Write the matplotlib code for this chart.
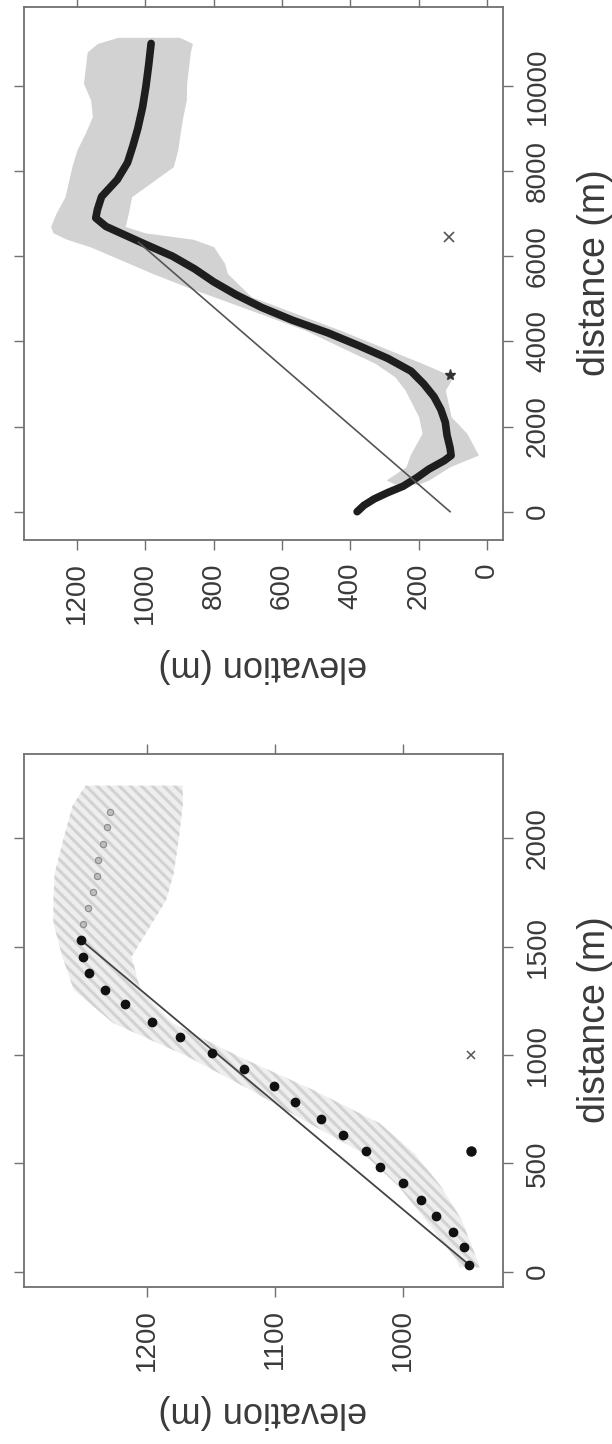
import matplotlib
matplotlib.use("Agg")
import matplotlib.pyplot as plt

# ---- upper panel: long profile (elevation in m, distance in m) ----
prof_dist = [0, 150, 300, 450, 600, 800, 1000, 1200, 1320, 1500, 1800, 2100, 2400,
             2700, 3000, 3300, 3600, 3900, 4200, 4500, 4800, 5100, 5400, 5700, 6000,
             6300, 6500, 6700, 6900, 7100, 7400, 7800, 8200, 8600, 9000, 9500, 10000,
             10500, 11000]
prof_elev = [380, 360, 330, 290, 245, 205, 170, 125, 105, 108, 117, 122, 135,
             155, 185, 222, 290, 375, 465, 570, 660, 735, 800, 855, 920,
             1005, 1060, 1115, 1145, 1140, 1128, 1082, 1052, 1036, 1022, 1008, 998,
             990, 983]

band_dist = [650, 745, 1057, 1332, 1842, 2232, 2859, 3171, 3486, 4268, 5051, 5285,
             5600, 5835, 6225, 6400, 6550, 6700, 7000, 7400, 8104, 8500, 8889, 9280,
             9671, 10063, 10800, 11000, 11144]
band_lo = [200, 170, 108, 25, 59, 105, 122, 99, 190, 431, 690, 720,
           760, 768, 800, 860, 1000, 1059, 1050, 1040, 918, 905, 898, 890,
           880, 879, 868, 862, 900]
band_hi = [270, 295, 237, 225, 190, 200, 240, 270, 328, 533, 800, 880,
           980, 1048, 1162, 1230, 1270, 1277, 1262, 1235, 1215, 1200, 1176, 1155,
           1160, 1181, 1170, 1140, 1080]

straight_up = ([108, 1020], [0, 6330])   # (elevation, distance)
cross_up = (110, 6446)
star_up = (108, 3211)

# ---- lower panel: short profile ----
dot_dist = [31, 112, 185, 258, 331, 408, 481, 558, 630, 706, 784, 857, 933, 1007,
            1081, 1153, 1233, 1299, 1379, 1453, 1530]
dot_elev = [948, 952, 961, 974, 986, 1000, 1018, 1029, 1047, 1064, 1084, 1101, 1124,
            1149, 1174, 1196, 1217, 1233, 1245, 1250, 1251.5]
open_dist = [1605, 1680, 1750, 1827, 1899, 1973, 2053, 2119]
open_elev = [1250, 1246, 1242, 1239, 1238, 1234, 1231, 1229]

band2_dist = [20, 54, 238, 392, 546, 684, 838, 992, 1146, 1299, 1453, 1607, 1714,
              1838, 2000, 2150, 2242]
band2_lo = [940, 942, 954, 970, 991, 1018, 1070, 1128, 1180, 1205, 1212, 1196, 1185,
            1179, 1175, 1172, 1172]
band2_hi = [956, 958, 982, 1003, 1031, 1073, 1119, 1168, 1226, 1257, 1266, 1273, 1273,
            1272, 1265, 1258, 1248]

cross_low = (947, 1000)
dot_low = (947, 555)

TXT = "#3a3a3a"
BOX = "#707070"

plt.rcParams["font.family"] = ["Liberation Sans", "DejaVu Sans"]
plt.rcParams["hatch.linewidth"] = 2.2

fig = plt.figure(figsize=(6.12, 14.44), dpi=100)
ax1 = fig.add_axes([24 / 612, 1 - 540 / 1444, 478.7 / 612, 533 / 1444])
ax2 = fig.add_axes([24 / 612, 1 - 1286.7 / 1444, 478.7 / 612, 532.7 / 1444])


def style_axes(ax, xticks, yticks, xlim, ylim):
    ax.set_xlim(*xlim)
    ax.set_ylim(*ylim)
    ax.set_xticks(xticks)
    ax.set_yticks(yticks)
    ax.set_xticklabels([str(t) for t in xticks], rotation=90)
    ax.set_yticklabels([str(t) for t in yticks], rotation=90, va="center")
    ax.tick_params(axis="both", direction="out", length=7, width=1.0,
                   colors=BOX, labelcolor=TXT, labelsize=20, pad=9,
                   top=True, bottom=True, left=True, right=True,
                   labeltop=False, labelbottom=True,
                   labelleft=False, labelright=True)
    for sp in ax.spines.values():
        sp.set_color(BOX)
        sp.set_linewidth(1.3)


# upper panel
ax1.fill_betweenx(band_dist, band_lo, band_hi, color="#d2d2d2", lw=0, zorder=1)
ax1.plot(prof_elev, prof_dist, color="#1e1e1e", lw=5.5, solid_capstyle="round",
         solid_joinstyle="round", zorder=3)
ax1.plot(straight_up[0], straight_up[1], color="#555555", lw=1.2, zorder=4)
ax1.plot(*cross_up, marker="x", color="#555555", ms=7, mew=1.2, zorder=4)
ax1.plot(*star_up, marker="*", color="#333333", ms=8, zorder=4)
style_axes(ax1, [1200, 1000, 800, 600, 400, 200, 0],
           [0, 2000, 4000, 6000, 8000, 10000], (1355, -46), (-665, 11856))

# lower panel: ensemble band drawn as a light striped area
ax2.fill_betweenx(band2_dist, band2_lo, band2_hi, facecolor="#eeeeee",
                  edgecolor="#d2d2d2", hatch="\\\\\\", lw=0, zorder=1)
ax2.plot([dot_elev[0], dot_elev[-1]], [dot_dist[0], dot_dist[-1]],
         color="#444444", lw=1.3, zorder=2)
ax2.plot(dot_elev, dot_dist, ls="none", marker="o", ms=6, color="#111111", zorder=3)
ax2.plot(open_elev, open_dist, ls="none", marker="o", ms=4.5, mfc="#bdbdbd",
         mec="#8a8a8a", mew=0.8, zorder=3)
ax2.plot(*cross_low, marker="x", color="#555555", ms=6, mew=1.1, zorder=4)
ax2.plot(*dot_low, marker="o", color="#111111", ms=6.5, zorder=4)
style_axes(ax2, [1200, 1100, 1000], [0, 500, 1000, 1500, 2000],
           (1296, 922), (-69, 2388))

# axis titles (the whole figure is turned a quarter turn)
for yc_dist, yc_elev in [(273, 665), (1020, 1411)]:
    fig.text(595 / 612, 1 - yc_dist / 1444, "distance (m)", rotation=90,
             ha="center", va="center", fontsize=27, color=TXT)
    fig.text(263 / 612, 1 - yc_elev / 1444, "elevation (m)", rotation=180,
             ha="center", va="center", fontsize=26, color=TXT)

fig.savefig("out.png", dpi=100, facecolor="white")
